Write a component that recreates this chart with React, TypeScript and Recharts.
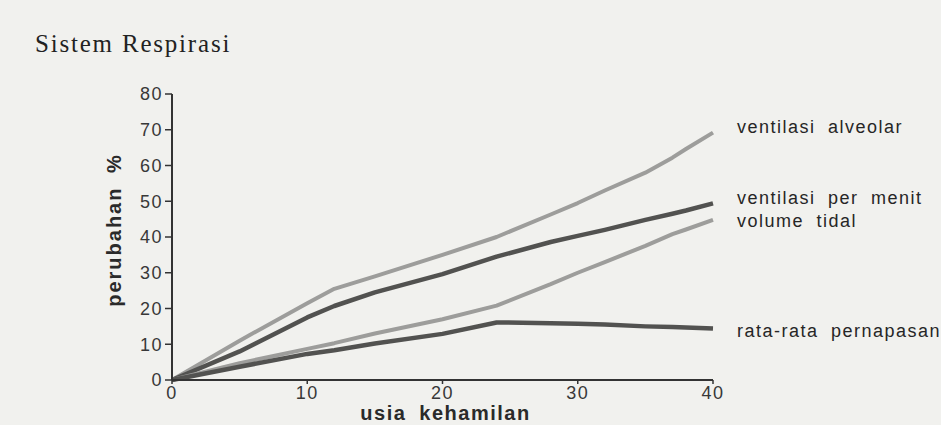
import { LineChart, Line, XAxis, YAxis, LabelList } from "recharts";

const weeks = [0, 5, 10, 12, 15, 20, 24, 28, 30, 32, 35, 37, 38, 40];
const alveolar = [0, 11, 21.5, 25.5, 29, 35, 40, 46.3, 49.5, 53, 58, 62.2, 64.6, 69.2];
const perMenit = [0, 8, 17.5, 20.7, 24.5, 29.6, 34.5, 38.6, 40.3, 42, 44.8, 46.5, 47.4, 49.4];
const tidal = [0, 4.7, 8.7, 10.3, 13, 17, 20.8, 26.8, 30, 33, 37.5, 40.8, 42.1, 44.8];
const rataRata = [0, 3.7, 7.3, 8.3, 10.2, 12.9, 16.1, 15.9, 15.7, 15.5, 15, 14.8, 14.7, 14.4];
const xTicks = [0, 10, 20, 30, 40];
const yTicks = [0, 10, 20, 30, 40, 50, 60, 70, 80];

const chartData = weeks.map((w, i) => ({
  week: w,
  alveolar: alveolar[i],
  perMenit: perMenit[i],
  tidal: tidal[i],
  rataRata: rataRata[i],
}));

const SANS = '"Liberation Sans", Arial, sans-serif';

const series = [
  { key: "alveolar", name: "ventilasi alveolar", color: "#9d9d9b", width: 4, dy: -6 },
  { key: "perMenit", name: "ventilasi per menit", color: "#525250", width: 4.5, dy: -5 },
  { key: "tidal", name: "volume tidal", color: "#9d9d9b", width: 4, dy: 1 },
  { key: "rataRata", name: "rata-rata pernapasan", color: "#525250", width: 4.5, dy: 2 },
];

function endLabel(name: string, dy: number) {
  return (props: any) => {
    const { x, y, index } = props;
    if (index !== weeks.length - 1) return <g />;
    return (
      <text
        x={Number(x) + 24}
        y={Number(y) + dy}
        dominantBaseline="central"
        fontFamily={SANS}
        fontSize={18}
        letterSpacing={1.5}
        wordSpacing={6}
        fill="#262626"
      >
        {name}
      </text>
    );
  };
}

function YTitle(props: any) {
  const { viewBox } = props;
  const cx = viewBox.x + 2;
  const cy = viewBox.y + viewBox.height / 2 - 7;
  return (
    <text
      x={cx}
      y={cy}
      transform={`rotate(-90, ${cx}, ${cy})`}
      textAnchor="middle"
      dominantBaseline="central"
      fontFamily={SANS}
      fontSize={20}
      fontWeight={700}
      letterSpacing={2}
      wordSpacing={6}
      fill="#2a2a2a"
    >
      perubahan %
    </text>
  );
}

function XTitle(props: any) {
  const { viewBox } = props;
  const cx = viewBox.x + viewBox.width / 2 + 3;
  const cy = viewBox.y + 33;
  return (
    <text
      x={cx}
      y={cy}
      textAnchor="middle"
      dominantBaseline="central"
      fontFamily={SANS}
      fontSize={20}
      fontWeight={700}
      letterSpacing={1.5}
      wordSpacing={6}
      fill="#2a2a2a"
    >
      usia kehamilan
    </text>
  );
}

export default function App() {
  return (
    <div
      style={{
        position: "absolute",
        left: 0,
        top: 0,
        width: 941,
        height: 425,
        background: "#f1f1ee",
        overflow: "hidden",
      }}
    >
      <div
        style={{
          position: "absolute",
          left: 35,
          top: 30,
          fontFamily: '"Liberation Serif", "Times New Roman", serif',
          fontSize: 25,
          letterSpacing: 1.8,
          color: "#222",
          lineHeight: "28px",
        }}
      >
        Sistem Respirasi
      </div>
      <LineChart
        width={941}
        height={425}
        data={chartData}
        margin={{ top: 94, right: 228, bottom: 15, left: 112 }}
      >
        <XAxis
          dataKey="week"
          type="number"
          domain={[0, 40]}
          ticks={xTicks}
          height={30}
          axisLine={{ stroke: "#333", strokeWidth: 2 }}
          tickLine={{ stroke: "#333", strokeWidth: 1.5 }}
          tickSize={4}
          tick={{ fontSize: 18, fill: "#383838", fontFamily: SANS, letterSpacing: 1.5 }}
          label={<XTitle />}
        />
        <YAxis
          type="number"
          domain={[0, 80]}
          ticks={yTicks}
          width={60}
          axisLine={{ stroke: "#333", strokeWidth: 2 }}
          tickLine={{ stroke: "#333", strokeWidth: 1.5 }}
          tickSize={7}
          tick={{ fontSize: 18, fill: "#383838", fontFamily: SANS, letterSpacing: 1.5 }}
          label={<YTitle />}
        />
        {series.map((s) => (
          <Line
            key={s.key}
            dataKey={s.key}
            type="linear"
            stroke={s.color}
            strokeWidth={s.width}
            strokeLinejoin="round"
            dot={false}
            activeDot={false}
            isAnimationActive={false}
          >
            <LabelList dataKey={s.key} content={endLabel(s.name, s.dy)} />
          </Line>
        ))}
      </LineChart>
    </div>
  );
}
